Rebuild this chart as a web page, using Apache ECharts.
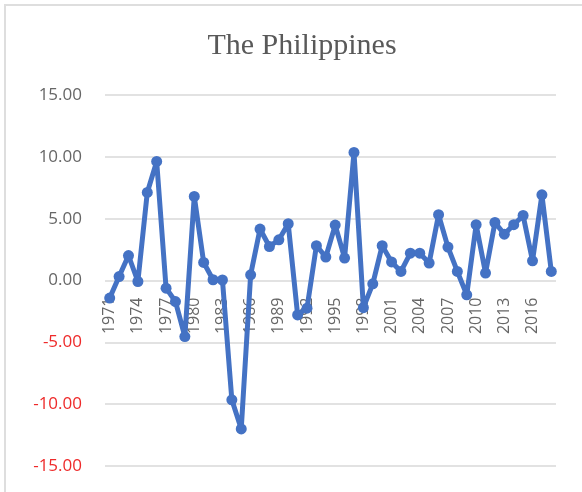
<html lang="en">
<head>
    <meta charset="UTF-8">
    <title>The Philippines</title>
    <script src="https://cdn.jsdelivr.net/npm/echarts@6/dist/echarts.min.js"></script>
</head>
<style>
    body {
        margin: 0;
        background: #fff;
    }
    #frame {
        position: absolute;
        left: 4px;
        top: 4px;
        width: 578px;
        height: 488px;
        border-left: 2px solid #dedede;
        border-top: 2px solid #dedede;
    }
    #container {
        position: absolute;
        left: 0;
        top: 0;
        width: 582px;
        height: 492px;
    }
</style>
<body>
<div id="frame"></div>
<div id="container"></div>
<script>
    var chart = echarts.init(document.getElementById('container'));

    // years 1971 - 2018
    var years = [];
    for (var y = 1971; y <= 2018; y++)
    {
        years.push(String(y));
    }

    var growth = [
        -1.42, 0.32, 2.02, -0.08, 7.12, 9.63, -0.62, -1.70, -4.53, 6.80,
        1.46, 0.06, 0.04, -9.65, -12.00, 0.46, 4.16, 2.75, 3.29, 4.59,
        -2.78, -2.24, 2.82, 1.90, 4.48, 1.81, 10.36, -2.20, -0.27, 2.82,
        1.50, 0.73, 2.21, 2.21, 1.41, 5.32, 2.70, 0.73, -1.16, 4.51,
        0.60, 4.69, 3.75, 4.51, 5.26, 1.59, 6.93, 0.73
    ];

    var yTicks = [-15, -10, -5, 0, 5, 10, 15];

    // grid box
    var gridTop = 95, gridBottom = 26, chartH = 492;
    // the category labels sit on the zero line (middle of the -15..15 range)
    var zeroOffset = -(chartH - gridTop - gridBottom) / 2;

    var option = {
        title: {
            text: 'The Philippines',
            left: 297,
            textAlign: 'center',
            top: 26,
            textStyle: {
                fontFamily: 'Liberation Serif',
                fontSize: 30,
                fontWeight: 'normal',
                color: '#595959'
            }
        },
        grid: {
            left: 105,
            right: 26,
            top: gridTop,
            bottom: gridBottom,
            outerBoundsMode: 'none'
        },
        xAxis: {
            type: 'category',
            data: years,
            boundaryGap: true,
            position: 'bottom',
            offset: zeroOffset,
            axisLine: {show: false, onZero: false},
            axisTick: {show: false},
            axisLabel: {
                interval: 2,
                rotate: 90,
                margin: 17,
                fontFamily: 'Open Sans',
                fontSize: 16,
                color: '#666666'
            }
        },
        yAxis: {
            type: 'value',
            min: yTicks[0],
            max: yTicks[yTicks.length - 1],
            interval: 5,
            axisLine: {show: false},
            axisTick: {show: false},
            splitLine: {
                lineStyle: {color: '#d9d9d9', width: 1.5}
            },
            axisLabel: {
                margin: 23,
                fontFamily: 'Open Sans',
                fontSize: 17,
                formatter: function (v)
                {
                    return v.toFixed(2);
                },
                color: function (v)
                {
                    return Number(v) < 0 ? '#ee2a2a' : '#666666';
                }
            }
        },
        series: [
            {
                type: 'line',
                data: growth,
                symbol: 'circle',
                symbolSize: 11,
                showAllSymbol: true,
                z: 3,
                itemStyle: {color: '#4472c4'},
                lineStyle: {color: '#4472c4', width: 5},
                animation: false
            }
        ]
    };

    chart.setOption(option);
</script>
</body>
</html>
